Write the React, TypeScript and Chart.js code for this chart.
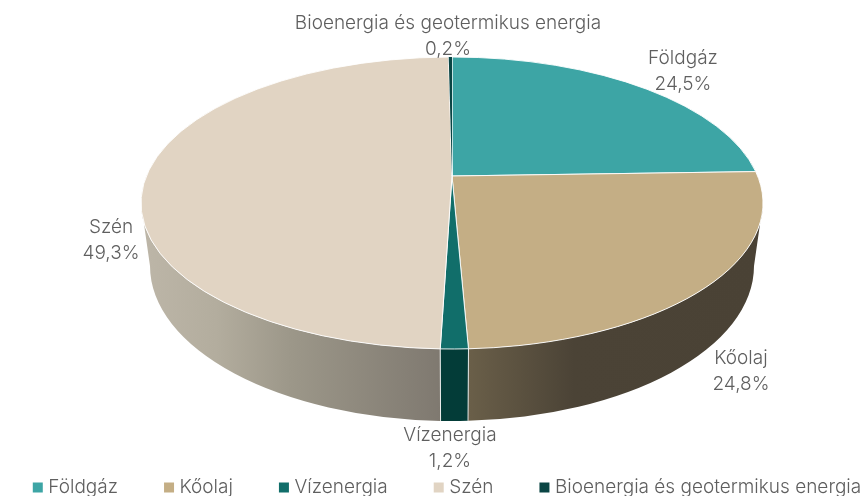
import React, { useEffect, useRef } from "react";
import { Chart, registerables } from "chart.js";

Chart.register(...registerables);

const categories = ["Földgáz", "Kőolaj", "Vízenergia", "Szén", "Bioenergia és geotermikus energia"];
const shares = [24.5, 24.8, 1.2, 49.3, 0.2];
const shareLabels = ["24,5%", "24,8%", "1,2%", "49,3%", "0,2%"];
const faceColors = ["#3da5a5", "#c4ae85", "#116e6a", "#e1d4c3", "#0a4544"];

// Layout (page pixels)
const CANVAS_W = 960;
const SHIFT = 31; // canvas is wider than the page so the one-row legend fits
const FONT = "Inter";
const TEXT = "#5f5f5f";
const TOP = { cx: 452, cy: 203, rx: 311, ry: 146 };
const BOTTOM = { cx: 452, cy: 266, rx: 302, ry: 155 };
const APEX = { x: 452, y: 176 };
const PROJ = { a: 305.6, b: 141, k: 0.185 };
const LABEL_POS = [
  [683, 58],
  [741, 358],
  [450, 435],
  [111, 227],
  [448, 23],
];
const LINE_GAP = 26;
const wallStops: (null | [number, number, [number, string][]])[] = [
  null,
  [468, 763, [[0, "#6a5f49"], [0.36, "#4b4336"], [1, "#4a4235"]]],
  [441, 468, [[0, "#033c38"], [1, "#033c38"]]],
  [141, 441, [[0, "#bdb6a8"], [0.25, "#b3ad9e"], [0.5, "#9c9789"], [1, "#7f7970"]]],
  null,
];

// arc-element angle -> parameter on the projected rim ellipse
function rimParam(angle: number) {
  const t = angle + Math.PI / 2;
  const w = 1 + PROJ.k * Math.cos(t);
  const x = APEX.x + (PROJ.a * Math.sin(t)) / w;
  const y = APEX.y + (PROJ.b * -Math.cos(t)) / w;
  let p = Math.atan2((y - TOP.cy) / TOP.ry, (x - TOP.cx) / TOP.rx);
  if (p < -Math.PI / 2 - 1e-6) p += Math.PI * 2;
  return p;
}

const pie3d = {
  id: "pie3d",
  beforeDatasetDraw(chart: any) {
    const ctx: CanvasRenderingContext2D = chart.ctx;
    const arcs = chart.getDatasetMeta(0).data;
    const ranges = arcs.map((el: any) => {
      const p1 = rimParam(el.startAngle);
      let p2 = rimParam(el.endAngle);
      if (p2 <= p1) p2 += Math.PI * 2;
      return [p1, p2];
    });
    ctx.save();
    ctx.translate(SHIFT, 0);

    // side walls
    arcs.forEach((_: any, i: number) => {
      const stops = wallStops[i];
      if (!stops) return;
      const a = Math.max(ranges[i][0], 0);
      const b = Math.min(ranges[i][1], Math.PI);
      if (b <= a) return;
      const g = ctx.createLinearGradient(stops[0], 0, stops[1], 0);
      stops[2].forEach(([o, c]) => g.addColorStop(o, c));
      ctx.beginPath();
      ctx.ellipse(TOP.cx, TOP.cy, TOP.rx, TOP.ry, 0, a, b);
      ctx.ellipse(BOTTOM.cx, BOTTOM.cy, BOTTOM.rx, BOTTOM.ry, 0, b, a, true);
      ctx.closePath();
      ctx.fillStyle = g;
      ctx.fill();
    });
    // seams on the wall
    ctx.strokeStyle = "rgba(255,255,255,0.85)";
    ctx.lineWidth = 1;
    arcs.forEach((_: any, i: number) => {
      const p = ranges[i][1];
      if (p <= 0 || p >= Math.PI) return;
      ctx.beginPath();
      ctx.moveTo(TOP.cx + TOP.rx * Math.cos(p), TOP.cy + TOP.ry * Math.sin(p));
      ctx.lineTo(BOTTOM.cx + BOTTOM.rx * Math.cos(p), BOTTOM.cy + BOTTOM.ry * Math.sin(p));
      ctx.stroke();
    });

    // top faces
    const facePath = (i: number) => {
      ctx.beginPath();
      ctx.moveTo(APEX.x, APEX.y);
      ctx.ellipse(TOP.cx, TOP.cy, TOP.rx, TOP.ry, 0, ranges[i][0], ranges[i][1]);
      ctx.closePath();
    };
    arcs.forEach((_: any, i: number) => {
      facePath(i);
      ctx.fillStyle = faceColors[i];
      ctx.fill();
      ctx.strokeStyle = "#ffffff";
      ctx.lineWidth = 0.9;
      ctx.stroke();
    });
    // thinnest slice goes on top of its neighbours' outlines
    facePath(4);
    ctx.fillStyle = faceColors[4];
    ctx.fill();
    ctx.restore();
    return false;
  },
  afterDraw(chart: any) {
    const ctx: CanvasRenderingContext2D = chart.ctx;
    ctx.save();
    ctx.translate(SHIFT, 0);
    ctx.font = `300 19px ${FONT}`;
    ctx.fillStyle = TEXT;
    ctx.textAlign = "center";
    ctx.textBaseline = "middle";
    categories.forEach((name, i) => {
      const [x, y] = LABEL_POS[i];
      ctx.fillText(name, x, y);
      ctx.fillText(shareLabels[i], x, y + LINE_GAP);
    });
    ctx.restore();
  },
};

export default function App() {
  const ref = useRef<HTMLCanvasElement>(null);
  useEffect(() => {
    const chart = new Chart(ref.current!, {
      type: "pie",
      data: {
        labels: categories,
        datasets: [{ data: shares, backgroundColor: faceColors, borderWidth: 0 }],
      },
      options: {
        animation: false,
        responsive: false,
        layout: { padding: { bottom: -11 } },
        plugins: {
          tooltip: { enabled: false },
          legend: {
            position: "bottom",
            labels: {
              usePointStyle: true,
              pointStyle: "rect",
              boxWidth: 2,
              boxHeight: 10,
              padding: 50,
              color: TEXT,
              font: { family: FONT, size: 19, weight: "300" },
            },
          },
        },
      },
      plugins: [pie3d],
    } as any);
    return () => chart.destroy();
  }, []);
  return (
    <div style={{ position: "fixed", left: 0, top: 0, width: 868, height: 496, overflow: "hidden", background: "#fff" }}>
      <canvas
        ref={ref}
        width={CANVAS_W}
        height={496}
        style={{ position: "absolute", left: -SHIFT, top: 0, width: CANVAS_W, height: 496 }}
      />
    </div>
  );
}
